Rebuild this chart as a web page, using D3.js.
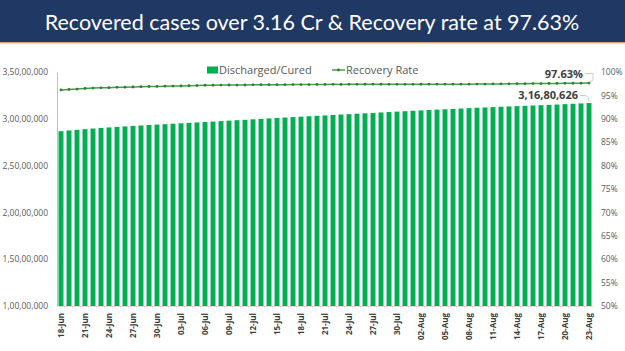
<!DOCTYPE html>
<html>
<head>
<meta charset="utf-8">
<script src="https://cdn.jsdelivr.net/npm/d3@7"></script>
<style>
    body { margin: 0; background: #ffffff; }
    svg { display: block; }
</style>
</head>
<body>
<svg id="recovery_chart" width="625" height="351"></svg>
<script>

let dates = [
    '18-Jun','19-Jun','20-Jun','21-Jun','22-Jun','23-Jun','24-Jun','25-Jun','26-Jun','27-Jun','28-Jun','29-Jun','30-Jun',
    '01-Jul','02-Jul','03-Jul','04-Jul','05-Jul','06-Jul','07-Jul','08-Jul','09-Jul','10-Jul','11-Jul','12-Jul','13-Jul',
    '14-Jul','15-Jul','16-Jul','17-Jul','18-Jul','19-Jul','20-Jul','21-Jul','22-Jul','23-Jul','24-Jul','25-Jul','26-Jul',
    '27-Jul','28-Jul','29-Jul','30-Jul','31-Jul',
    '01-Aug','02-Aug','03-Aug','04-Aug','05-Aug','06-Aug','07-Aug','08-Aug','09-Aug','10-Aug','11-Aug','12-Aug','13-Aug',
    '14-Aug','15-Aug','16-Aug','17-Aug','18-Aug','19-Aug','20-Aug','21-Aug','22-Aug','23-Aug'
];

let discharged = [
    28678390, 28752437, 28820541, 28892643, 28962701, 29022732, 29079806, 29133917, 29187042, 29239154, 29289210, 29337259, 29381287,
    29427330, 29473441, 29518592, 29563021, 29611112, 29658204, 29704456, 29753531, 29801602, 29849047, 29895131, 29942592, 29990731,
    30040111, 30087334, 30133516, 30179092, 30227792, 30273071, 30317245, 30362540, 30408008, 30451999, 30495896, 30540236, 30584483,
    30628912, 30675131, 30721030, 30766612, 30810943,
    30857467, 30898501, 30940236, 30979822, 31019450, 31058072, 31098053, 31137009, 31176411, 31212613, 31249311, 31284004, 31319551,
    31354620, 31387300, 31421005, 31455921, 31490118, 31526223, 31566042, 31605010, 31643003, 31680626
];

let recovery_rate = [
    96.16, 96.27, 96.36, 96.49, 96.56, 96.61, 96.66, 96.72, 96.75, 96.80, 96.87, 96.90, 96.92,
    96.97, 96.99, 97.01, 97.06, 97.11, 97.17, 97.18, 97.20, 97.22, 97.20, 97.22, 97.25, 97.28,
    97.28, 97.28, 97.29, 97.31, 97.31, 97.32, 97.33, 97.35, 97.36, 97.35, 97.36, 97.37, 97.38,
    97.39, 97.38, 97.37, 97.36, 97.37,
    97.37, 97.38, 97.39, 97.39, 97.39, 97.40, 97.40, 97.40, 97.42, 97.43, 97.45, 97.46, 97.48,
    97.49, 97.51, 97.52, 97.53, 97.54, 97.55, 97.57, 97.60, 97.61, 97.63
];

let left_ticks = [10000000, 15000000, 20000000, 25000000, 30000000, 35000000];
let right_ticks = [50, 55, 60, 65, 70, 75, 80, 85, 90, 95, 100];

let title_text = 'Recovered cases over 3.16 Cr & Recovery rate at 97.63%';


// Indian style grouping: 3,16,80,626
function indian_format(n) {
    let s = String(Math.round(n));
    if (s.length <= 3) return s;
    let last3 = s.slice(-3);
    let rest = s.slice(0, -3);
    rest = rest.replace(/\B(?=(\d{2})+(?!\d))/g, ',');
    return rest + ',' + last3;
}


function recovery_chart() {

    let svg = d3.select('#recovery_chart');
    let font = "'Open Sans', 'Noto Sans', sans-serif";

    let plot_left = 57;
    let plot_right = 593;
    let plot_top = 72;
    let plot_bottom = 306;

    let data = dates.map((d, i) => ({date: d, cured: discharged[i], rate: recovery_rate[i]}));

    // Title banner
    svg.append('rect')
        .attr('x', 0).attr('y', 0)
        .attr('width', 625).attr('height', 43)
        .attr('fill', '#203864');

    svg.append('rect')
        .attr('x', 0).attr('y', 42)
        .attr('width', 625).attr('height', 1.5)
        .attr('fill', '#d9a877');

    svg.append('text')
        .attr('x', 312)
        .attr('y', 29.5)
        .attr('text-anchor', 'middle')
        .attr('fill', '#ffffff')
        .attr('font-family', "Lato, 'Open Sans', sans-serif")
        .attr('font-size', '21.5px')
        .text(title_text);

    // Scales
    let x = d3.scaleBand()
        .domain(dates)
        .range([plot_left, plot_right])
        .paddingInner(0.38)
        .paddingOuter(0.19);

    let y_left = d3.scaleLinear()
        .domain([10000000, 35000000])
        .range([plot_bottom, plot_top]);

    let y_right = d3.scaleLinear()
        .domain([50, 100])
        .range([plot_bottom, plot_top]);

    // Bars
    svg.append('g')
        .selectAll('rect')
        .data(data)
        .join('rect')
        .attr('x', d => x(d.date))
        .attr('y', d => y_left(d.cured))
        .attr('width', x.bandwidth())
        .attr('height', d => plot_bottom - y_left(d.cured))
        .attr('fill', '#00b050');

    // Left axis
    let left_axis = svg.append('g')
        .attr('transform', 'translate(' + plot_left + ',0)')
        .call(d3.axisLeft(y_left).tickValues(left_ticks).tickFormat(indian_format).tickSize(0).tickPadding(9));

    left_axis.select('.domain').attr('stroke', '#bfbfbf');
    left_axis.selectAll('text')
        .attr('font-family', font)
        .attr('font-size', '8.5px')
        .attr('fill', '#595959');

    // Right axis
    let right_axis = svg.append('g')
        .attr('transform', 'translate(' + (plot_right + 6) + ',0)')
        .call(d3.axisRight(y_right).tickValues(right_ticks).tickFormat(d => d + '%').tickSize(0).tickPadding(2));

    right_axis.select('.domain').remove();
    right_axis.selectAll('text')
        .attr('font-family', font)
        .attr('font-size', '8.5px')
        .attr('fill', '#595959');

    // Bottom axis
    let bottom_axis = svg.append('g')
        .attr('transform', 'translate(0,' + plot_bottom + ')')
        .call(d3.axisBottom(x).tickValues(dates.filter((d, i) => i % 3 == 0)).tickSize(0));

    bottom_axis.select('.domain').attr('stroke', '#d9d9d9');
    bottom_axis.selectAll('text')
        .attr('transform', 'rotate(-90)')
        .attr('text-anchor', 'end')
        .attr('x', -7)
        .attr('y', 0)
        .attr('dy', '0.32em')
        .attr('font-family', font)
        .attr('font-weight', 'bold')
        .attr('font-size', '8px')
        .attr('fill', '#404040');

    // Recovery rate line
    let line = d3.line()
        .x(d => x(d.date) + x.bandwidth() / 2)
        .y(d => y_right(d.rate));

    svg.append('path')
        .datum(data)
        .attr('d', line)
        .attr('fill', 'none')
        .attr('stroke', '#43a047')
        .attr('stroke-width', 1.5);

    svg.append('g')
        .selectAll('circle')
        .data(data)
        .join('circle')
        .attr('cx', d => x(d.date) + x.bandwidth() / 2)
        .attr('cy', d => y_right(d.rate))
        .attr('r', 1.4)
        .attr('fill', '#2e7d32');

    // Legend
    svg.append('rect')
        .attr('x', 207).attr('y', 66.5)
        .attr('width', 11).attr('height', 7)
        .attr('fill', '#00b050');

    svg.append('text')
        .attr('x', 219).attr('y', 74)
        .attr('font-family', font)
        .attr('font-size', '11px')
        .attr('fill', '#595959')
        .text('Discharged/Cured');

    svg.append('line')
        .attr('x1', 332).attr('x2', 345)
        .attr('y1', 70).attr('y2', 70)
        .attr('stroke', '#43a047')
        .attr('stroke-width', 1.5);

    svg.append('circle')
        .attr('cx', 338.5).attr('cy', 70).attr('r', 1.4)
        .attr('fill', '#2e7d32');

    svg.append('text')
        .attr('x', 346).attr('y', 74)
        .attr('font-family', font)
        .attr('font-size', '11px')
        .attr('fill', '#595959')
        .text('Recovery Rate');

    // Data labels on the last day
    let last = data[data.length - 1];
    let last_x = x(last.date) + x.bandwidth() / 2;

    svg.append('text')
        .attr('x', 583).attr('y', 78)
        .attr('text-anchor', 'end')
        .attr('font-family', font)
        .attr('font-weight', 'bold')
        .attr('font-size', '11px')
        .attr('fill', '#404040')
        .text(last.rate.toFixed(2) + '%');

    svg.append('path')
        .attr('d', 'M585,73.5 L593,73.5 L593,80 L' + last_x + ',' + (y_right(last.rate) - 1))
        .attr('fill', 'none')
        .attr('stroke', '#bfbfbf')
        .attr('stroke-width', 0.8);

    svg.append('text')
        .attr('x', 578).attr('y', 99)
        .attr('text-anchor', 'end')
        .attr('font-family', font)
        .attr('font-weight', 'bold')
        .attr('font-size', '11px')
        .attr('fill', '#404040')
        .text(indian_format(last.cured));

    svg.append('path')
        .attr('d', 'M580,95.5 L585,95.5 Q' + last_x + ',96 ' + last_x + ',' + (y_left(last.cured) - 1))
        .attr('fill', 'none')
        .attr('stroke', '#bfbfbf')
        .attr('stroke-width', 0.8);

}

recovery_chart();

</script>
</body>
</html>
